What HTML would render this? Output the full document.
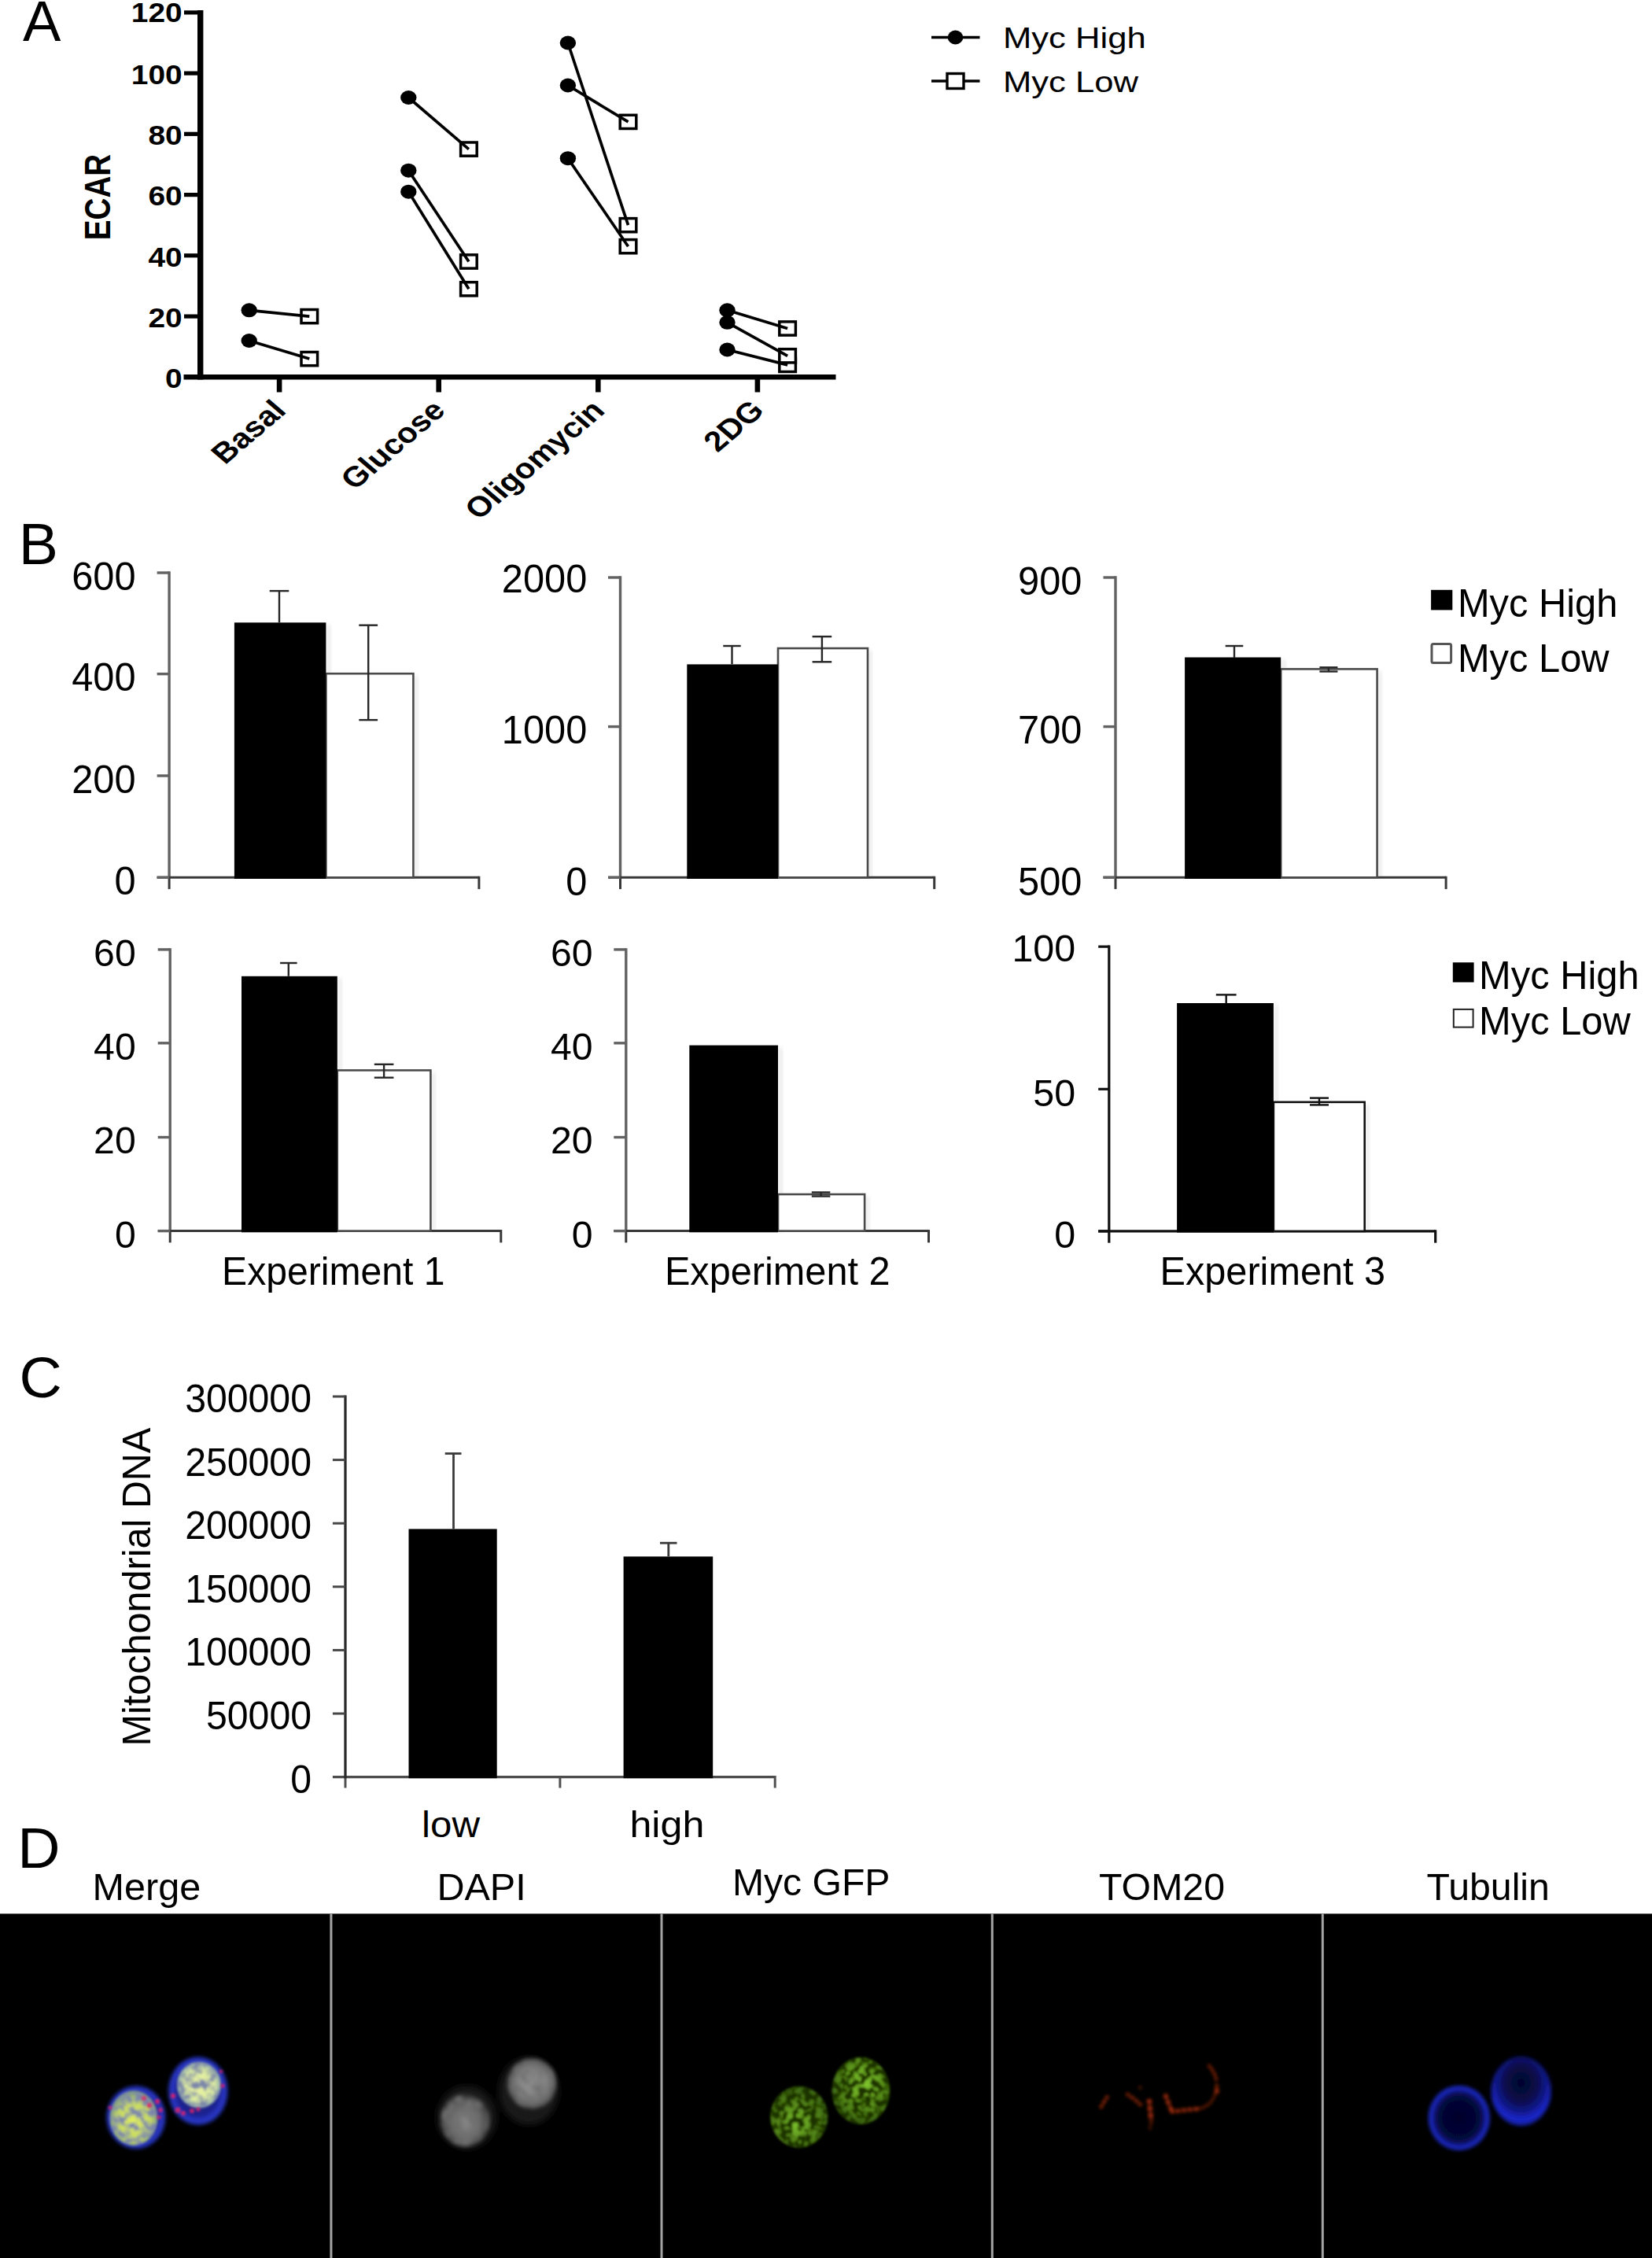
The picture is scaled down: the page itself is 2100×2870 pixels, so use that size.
<!DOCTYPE html>
<html><head><meta charset="utf-8"><title>Figure</title>
<style>html,body{margin:0;padding:0;background:#fff;}svg{display:block;}text{font-family:"Liberation Sans", Arial, Helvetica, sans-serif;}</style>
</head><body>
<svg width="2100" height="2870" viewBox="0 0 2100 2870">
<rect x="0" y="0" width="2100" height="2870" fill="#fff"/>
<defs>
<filter id="b2" x="-20%" y="-20%" width="140%" height="140%"><feGaussianBlur stdDeviation="2"/></filter>
<filter id="b4" x="-30%" y="-30%" width="160%" height="160%"><feGaussianBlur stdDeviation="4"/></filter>
<filter id="b1" x="-20%" y="-20%" width="140%" height="140%"><feGaussianBlur stdDeviation="1.2"/></filter>
<filter id="sh" x="-20%" y="-5%" width="140%" height="110%"><feGaussianBlur stdDeviation="2.5"/></filter>
<radialGradient id="gDapi" cx="50%" cy="50%" r="50%"><stop offset="0" stop-color="#b0b0b0"/><stop offset="0.7" stop-color="#8a8a8a"/><stop offset="1" stop-color="#444"/></radialGradient>
<radialGradient id="gDapi2" cx="50%" cy="50%" r="50%"><stop offset="0" stop-color="#8c8c8c"/><stop offset="0.7" stop-color="#6c6c6c"/><stop offset="1" stop-color="#333"/></radialGradient>
<radialGradient id="gGfp" cx="50%" cy="50%" r="50%"><stop offset="0" stop-color="#8fb82a"/><stop offset="0.8" stop-color="#6f9a1c"/><stop offset="1" stop-color="#3c5a0c"/></radialGradient>
<radialGradient id="gTub" cx="50%" cy="50%" r="50%"><stop offset="0" stop-color="#0a1a70"/><stop offset="0.75" stop-color="#1226a0"/><stop offset="0.93" stop-color="#2a4af0"/><stop offset="1" stop-color="#1020a0"/></radialGradient>
<radialGradient id="gMerge" cx="50%" cy="50%" r="50%"><stop offset="0" stop-color="#c8e070"/><stop offset="0.6" stop-color="#9fc060"/><stop offset="0.8" stop-color="#5070c0"/><stop offset="0.95" stop-color="#3048e0"/><stop offset="1" stop-color="#1828a0"/></radialGradient>
</defs>
<g id="panelA">
<text transform="translate(29.0,51.5)" font-size="72.5" text-anchor="start" font-weight="normal" fill="#000" >A</text>
<line x1="254.7" y1="13.0" x2="254.7" y2="482.5" stroke="#000" stroke-width="7.4" stroke-linecap="butt"/>
<line x1="233.5" y1="479.3" x2="1062.5" y2="479.3" stroke="#000" stroke-width="6.6" stroke-linecap="butt"/>
<line x1="234.0" y1="402.1" x2="255.0" y2="402.1" stroke="#000" stroke-width="5.2" stroke-linecap="butt"/>
<line x1="234.0" y1="324.8" x2="255.0" y2="324.8" stroke="#000" stroke-width="5.2" stroke-linecap="butt"/>
<line x1="234.0" y1="247.6" x2="255.0" y2="247.6" stroke="#000" stroke-width="5.2" stroke-linecap="butt"/>
<line x1="234.0" y1="170.3" x2="255.0" y2="170.3" stroke="#000" stroke-width="5.2" stroke-linecap="butt"/>
<line x1="234.0" y1="93.1" x2="255.0" y2="93.1" stroke="#000" stroke-width="5.2" stroke-linecap="butt"/>
<line x1="234.0" y1="15.9" x2="255.0" y2="15.9" stroke="#000" stroke-width="5.2" stroke-linecap="butt"/>
<text transform="translate(231.7,493.0) scale(1.08,1)" font-size="36" text-anchor="end" font-weight="bold" fill="#000" >0</text>
<text transform="translate(231.7,415.8) scale(1.08,1)" font-size="36" text-anchor="end" font-weight="bold" fill="#000" >20</text>
<text transform="translate(231.7,338.5) scale(1.08,1)" font-size="36" text-anchor="end" font-weight="bold" fill="#000" >40</text>
<text transform="translate(231.7,261.3) scale(1.08,1)" font-size="36" text-anchor="end" font-weight="bold" fill="#000" >60</text>
<text transform="translate(231.7,184.0) scale(1.08,1)" font-size="36" text-anchor="end" font-weight="bold" fill="#000" >80</text>
<text transform="translate(231.7,106.8) scale(1.08,1)" font-size="36" text-anchor="end" font-weight="bold" fill="#000" >100</text>
<text transform="translate(231.7,28.1) scale(1.08,1)" font-size="36" text-anchor="end" font-weight="bold" fill="#000" >120</text>
<line x1="355.1" y1="479.3" x2="355.1" y2="498.5" stroke="#000" stroke-width="6.6" stroke-linecap="butt"/>
<line x1="557.7" y1="479.3" x2="557.7" y2="498.5" stroke="#000" stroke-width="6.6" stroke-linecap="butt"/>
<line x1="760.3" y1="479.3" x2="760.3" y2="498.5" stroke="#000" stroke-width="6.6" stroke-linecap="butt"/>
<line x1="962.9" y1="479.3" x2="962.9" y2="498.5" stroke="#000" stroke-width="6.6" stroke-linecap="butt"/>
<text transform="translate(344.2,505.4) scale(1.17,1) rotate(-45)" font-size="36" text-anchor="end" font-weight="bold" dominant-baseline="hanging">Basal</text>
<text transform="translate(546.8,505.4) scale(1.17,1) rotate(-45)" font-size="36" text-anchor="end" font-weight="bold" dominant-baseline="hanging">Glucose</text>
<text transform="translate(749.4,505.4) scale(1.17,1) rotate(-45)" font-size="36" text-anchor="end" font-weight="bold" dominant-baseline="hanging">Oligomycin</text>
<text transform="translate(952.0,505.4) scale(1.17,1) rotate(-45)" font-size="36" text-anchor="end" font-weight="bold" dominant-baseline="hanging">2DG</text>
<text transform="translate(139.8,250.5) rotate(-90) scale(1,1.18)" font-size="38.6" text-anchor="middle" font-weight="bold">ECAR</text>
<rect x="383.0" y="447.5" width="20.6" height="17.2" fill="#fff" stroke="#000" stroke-width="3.5"/>
<rect x="383.0" y="393.5" width="20.6" height="17.2" fill="#fff" stroke="#000" stroke-width="3.5"/>
<line x1="316.7" y1="394.3" x2="393.3" y2="402.1" stroke="#000" stroke-width="3.7" stroke-linecap="butt"/>
<line x1="316.7" y1="433.0" x2="393.3" y2="456.1" stroke="#000" stroke-width="3.7" stroke-linecap="butt"/>
<ellipse cx="316.7" cy="394.3" rx="10.2" ry="9" fill="#000"/>
<ellipse cx="316.7" cy="433.0" rx="10.2" ry="9" fill="#000"/>
<rect x="585.6" y="358.7" width="20.6" height="17.2" fill="#fff" stroke="#000" stroke-width="3.5"/>
<rect x="585.6" y="323.9" width="20.6" height="17.2" fill="#fff" stroke="#000" stroke-width="3.5"/>
<rect x="585.6" y="181.0" width="20.6" height="17.2" fill="#fff" stroke="#000" stroke-width="3.5"/>
<line x1="519.3" y1="124.0" x2="595.9" y2="189.6" stroke="#000" stroke-width="3.7" stroke-linecap="butt"/>
<line x1="519.3" y1="216.7" x2="595.9" y2="332.5" stroke="#000" stroke-width="3.7" stroke-linecap="butt"/>
<line x1="519.3" y1="243.7" x2="595.9" y2="367.3" stroke="#000" stroke-width="3.7" stroke-linecap="butt"/>
<ellipse cx="519.3" cy="124.0" rx="10.2" ry="9" fill="#000"/>
<ellipse cx="519.3" cy="216.7" rx="10.2" ry="9" fill="#000"/>
<ellipse cx="519.3" cy="243.7" rx="10.2" ry="9" fill="#000"/>
<rect x="788.2" y="304.6" width="20.6" height="17.2" fill="#fff" stroke="#000" stroke-width="3.5"/>
<rect x="788.2" y="146.3" width="20.6" height="17.2" fill="#fff" stroke="#000" stroke-width="3.5"/>
<rect x="788.2" y="277.6" width="20.6" height="17.2" fill="#fff" stroke="#000" stroke-width="3.5"/>
<line x1="721.9" y1="54.5" x2="798.5" y2="286.2" stroke="#000" stroke-width="3.7" stroke-linecap="butt"/>
<line x1="721.9" y1="108.5" x2="798.5" y2="154.9" stroke="#000" stroke-width="3.7" stroke-linecap="butt"/>
<line x1="721.9" y1="201.2" x2="798.5" y2="313.2" stroke="#000" stroke-width="3.7" stroke-linecap="butt"/>
<ellipse cx="721.9" cy="54.5" rx="10.2" ry="9" fill="#000"/>
<ellipse cx="721.9" cy="108.5" rx="10.2" ry="9" fill="#000"/>
<ellipse cx="721.9" cy="201.2" rx="10.2" ry="9" fill="#000"/>
<rect x="990.8" y="455.3" width="20.6" height="17.2" fill="#fff" stroke="#000" stroke-width="3.5"/>
<rect x="990.8" y="443.7" width="20.6" height="17.2" fill="#fff" stroke="#000" stroke-width="3.5"/>
<rect x="990.8" y="408.9" width="20.6" height="17.2" fill="#fff" stroke="#000" stroke-width="3.5"/>
<line x1="924.5" y1="394.3" x2="1001.1" y2="417.5" stroke="#000" stroke-width="3.7" stroke-linecap="butt"/>
<line x1="924.5" y1="409.8" x2="1001.1" y2="452.3" stroke="#000" stroke-width="3.7" stroke-linecap="butt"/>
<line x1="924.5" y1="444.5" x2="1001.1" y2="463.9" stroke="#000" stroke-width="3.7" stroke-linecap="butt"/>
<ellipse cx="924.5" cy="394.3" rx="10.2" ry="9" fill="#000"/>
<ellipse cx="924.5" cy="409.8" rx="10.2" ry="9" fill="#000"/>
<ellipse cx="924.5" cy="444.5" rx="10.2" ry="9" fill="#000"/>
<line x1="1184.0" y1="47.5" x2="1245.5" y2="47.5" stroke="#000" stroke-width="3.4" stroke-linecap="butt"/>
<ellipse cx="1214.5" cy="47.5" rx="9.8" ry="9" fill="#000"/>
<line x1="1184.0" y1="103.0" x2="1245.5" y2="103.0" stroke="#000" stroke-width="3.4" stroke-linecap="butt"/>
<rect x="1204" y="93.5" width="21" height="19" fill="#fff" stroke="#000" stroke-width="3.4"/>
<text transform="translate(1275.0,60.5) scale(1.185,1)" font-size="36.8" text-anchor="start" font-weight="normal" fill="#000" >Myc High</text>
<text transform="translate(1275.0,116.5) scale(1.185,1)" font-size="36.8" text-anchor="start" font-weight="normal" fill="#000" >Myc Low</text>
</g>
<g id="panelB">
<text transform="translate(23.8,717.4) scale(1.01,1)" font-size="74.5" text-anchor="start" font-weight="normal" fill="#000" >B</text>
<rect x="415.4" y="794.3" width="5" height="321.0" fill="#999" opacity="0.2" filter="url(#sh)"/>
<rect x="526.4" y="859.2" width="5" height="256.1" fill="#999" opacity="0.2" filter="url(#sh)"/>
<line x1="215.1" y1="726.3" x2="215.1" y2="1115.3" stroke="#626262" stroke-width="3.4" stroke-linecap="butt"/>
<line x1="215.1" y1="1115.3" x2="215.1" y2="1130.1" stroke="#383838" stroke-width="3.0" stroke-linecap="butt"/>
<line x1="199.6" y1="1115.3" x2="608.9" y2="1115.3" stroke="#383838" stroke-width="3.0" stroke-linecap="butt"/>
<line x1="608.9" y1="1113.8" x2="608.9" y2="1130.1" stroke="#383838" stroke-width="3.0" stroke-linecap="butt"/>
<line x1="199.6" y1="728.0" x2="215.1" y2="728.0" stroke="#626262" stroke-width="3.4" stroke-linecap="butt"/>
<text transform="translate(172.6,749.9) scale(0.985,1)" font-size="49.5" text-anchor="end" font-weight="normal" fill="#000" >600</text>
<line x1="199.6" y1="856.6" x2="215.1" y2="856.6" stroke="#626262" stroke-width="3.4" stroke-linecap="butt"/>
<text transform="translate(172.6,878.2) scale(0.985,1)" font-size="49.5" text-anchor="end" font-weight="normal" fill="#000" >400</text>
<line x1="199.6" y1="986.0" x2="215.1" y2="986.0" stroke="#626262" stroke-width="3.4" stroke-linecap="butt"/>
<text transform="translate(172.6,1007.6) scale(0.985,1)" font-size="49.5" text-anchor="end" font-weight="normal" fill="#000" >200</text>
<line x1="199.6" y1="1115.3" x2="215.1" y2="1115.3" stroke="#626262" stroke-width="3.4" stroke-linecap="butt"/>
<text transform="translate(172.6,1136.9) scale(0.985,1)" font-size="49.5" text-anchor="end" font-weight="normal" fill="#000" >0</text>
<rect x="414.4" y="856.2" width="111.0" height="259.1" fill="#fff" stroke="#4a4a4a" stroke-width="2.6"/>
<rect x="297.9" y="791.3" width="116.5" height="325.7" fill="#000" stroke="none" stroke-width="0"/>
<line x1="355.0" y1="751.1" x2="355.0" y2="791.3" stroke="#262626" stroke-width="2.4" stroke-linecap="butt"/>
<line x1="342.7" y1="751.1" x2="367.3" y2="751.1" stroke="#262626" stroke-width="2.4" stroke-linecap="butt"/>
<line x1="468.2" y1="794.7" x2="468.2" y2="915.1" stroke="#262626" stroke-width="2.4" stroke-linecap="butt"/>
<line x1="456.3" y1="794.7" x2="480.1" y2="794.7" stroke="#262626" stroke-width="2.4" stroke-linecap="butt"/>
<line x1="456.3" y1="915.1" x2="480.1" y2="915.1" stroke="#262626" stroke-width="2.4" stroke-linecap="butt"/>
<rect x="990.0" y="847.4" width="5" height="267.9" fill="#999" opacity="0.2" filter="url(#sh)"/>
<rect x="1104.0" y="827.0" width="5" height="288.3" fill="#999" opacity="0.2" filter="url(#sh)"/>
<line x1="788.5" y1="732.3" x2="788.5" y2="1115.3" stroke="#626262" stroke-width="3.4" stroke-linecap="butt"/>
<line x1="788.5" y1="1115.3" x2="788.5" y2="1130.1" stroke="#383838" stroke-width="3.0" stroke-linecap="butt"/>
<line x1="773.0" y1="1115.3" x2="1187.7" y2="1115.3" stroke="#383838" stroke-width="3.0" stroke-linecap="butt"/>
<line x1="1187.7" y1="1113.8" x2="1187.7" y2="1130.1" stroke="#383838" stroke-width="3.0" stroke-linecap="butt"/>
<line x1="773.0" y1="734.0" x2="788.5" y2="734.0" stroke="#626262" stroke-width="3.4" stroke-linecap="butt"/>
<text transform="translate(746.3,752.7) scale(0.985,1)" font-size="49.5" text-anchor="end" font-weight="normal" fill="#000" >2000</text>
<line x1="773.0" y1="923.6" x2="788.5" y2="923.6" stroke="#626262" stroke-width="3.4" stroke-linecap="butt"/>
<text transform="translate(746.3,944.8) scale(0.985,1)" font-size="49.5" text-anchor="end" font-weight="normal" fill="#000" >1000</text>
<line x1="773.0" y1="1115.3" x2="788.5" y2="1115.3" stroke="#626262" stroke-width="3.4" stroke-linecap="butt"/>
<text transform="translate(746.3,1137.5) scale(0.985,1)" font-size="49.5" text-anchor="end" font-weight="normal" fill="#000" >0</text>
<rect x="989.0" y="824.0" width="114.0" height="291.3" fill="#fff" stroke="#4a4a4a" stroke-width="2.6"/>
<rect x="873.3" y="844.4" width="115.7" height="272.6" fill="#000" stroke="none" stroke-width="0"/>
<line x1="930.5" y1="821.0" x2="930.5" y2="844.3" stroke="#262626" stroke-width="2.4" stroke-linecap="butt"/>
<line x1="919.3" y1="821.0" x2="941.7" y2="821.0" stroke="#262626" stroke-width="2.4" stroke-linecap="butt"/>
<line x1="1044.9" y1="809.1" x2="1044.9" y2="841.3" stroke="#262626" stroke-width="2.4" stroke-linecap="butt"/>
<line x1="1032.6" y1="809.1" x2="1057.2" y2="809.1" stroke="#262626" stroke-width="2.4" stroke-linecap="butt"/>
<line x1="1032.6" y1="841.3" x2="1057.2" y2="841.3" stroke="#262626" stroke-width="2.4" stroke-linecap="butt"/>
<rect x="1629.2" y="838.5" width="5" height="276.8" fill="#999" opacity="0.2" filter="url(#sh)"/>
<rect x="1751.6" y="853.4" width="5" height="261.9" fill="#999" opacity="0.2" filter="url(#sh)"/>
<line x1="1418.0" y1="732.3" x2="1418.0" y2="1115.3" stroke="#626262" stroke-width="3.4" stroke-linecap="butt"/>
<line x1="1418.0" y1="1115.3" x2="1418.0" y2="1130.1" stroke="#383838" stroke-width="3.0" stroke-linecap="butt"/>
<line x1="1402.5" y1="1115.3" x2="1838.1" y2="1115.3" stroke="#383838" stroke-width="3.0" stroke-linecap="butt"/>
<line x1="1838.1" y1="1113.8" x2="1838.1" y2="1130.1" stroke="#383838" stroke-width="3.0" stroke-linecap="butt"/>
<line x1="1402.5" y1="734.0" x2="1418.0" y2="734.0" stroke="#626262" stroke-width="3.4" stroke-linecap="butt"/>
<text transform="translate(1375.4,756.3) scale(0.985,1)" font-size="49.5" text-anchor="end" font-weight="normal" fill="#000" >900</text>
<line x1="1402.5" y1="923.6" x2="1418.0" y2="923.6" stroke="#626262" stroke-width="3.4" stroke-linecap="butt"/>
<text transform="translate(1375.4,944.8) scale(0.985,1)" font-size="49.5" text-anchor="end" font-weight="normal" fill="#000" >700</text>
<line x1="1402.5" y1="1115.3" x2="1418.0" y2="1115.3" stroke="#626262" stroke-width="3.4" stroke-linecap="butt"/>
<text transform="translate(1375.4,1137.6) scale(0.985,1)" font-size="49.5" text-anchor="end" font-weight="normal" fill="#000" >500</text>
<rect x="1628.2" y="850.4" width="122.4" height="264.9" fill="#fff" stroke="#4a4a4a" stroke-width="2.6"/>
<rect x="1506.1" y="835.5" width="122.1" height="281.5" fill="#000" stroke="none" stroke-width="0"/>
<line x1="1569.0" y1="821.0" x2="1569.0" y2="836.0" stroke="#262626" stroke-width="2.4" stroke-linecap="butt"/>
<line x1="1557.7" y1="821.0" x2="1580.3" y2="821.0" stroke="#262626" stroke-width="2.4" stroke-linecap="butt"/>
<line x1="1688.9" y1="848.3" x2="1688.9" y2="853.5" stroke="#262626" stroke-width="2.4" stroke-linecap="butt"/>
<line x1="1677.4" y1="848.3" x2="1700.4" y2="848.3" stroke="#262626" stroke-width="2.4" stroke-linecap="butt"/>
<line x1="1677.4" y1="853.5" x2="1700.4" y2="853.5" stroke="#262626" stroke-width="2.4" stroke-linecap="butt"/>
<rect x="1819.1" y="749.8" width="27.2" height="25.6" fill="#000" stroke="none" stroke-width="0"/>
<rect x="1820" y="818.6" width="24.6" height="24" rx="2" fill="#fff" stroke="#555" stroke-width="3"/>
<text transform="translate(1852.9,783.9) scale(0.981,1)" font-size="49.8" text-anchor="start" font-weight="normal" fill="#000" >Myc High</text>
<text transform="translate(1852.9,854.4) scale(0.981,1)" font-size="49.8" text-anchor="start" font-weight="normal" fill="#000" >Myc Low</text>
<rect x="429.8" y="1243.8" width="5" height="320.8" fill="#999" opacity="0.2" filter="url(#sh)"/>
<rect x="548.4" y="1363.4" width="5" height="201.2" fill="#999" opacity="0.2" filter="url(#sh)"/>
<line x1="216.2" y1="1205.2" x2="216.2" y2="1564.6" stroke="#626262" stroke-width="3.4" stroke-linecap="butt"/>
<line x1="216.2" y1="1564.6" x2="216.2" y2="1579.4" stroke="#383838" stroke-width="3.0" stroke-linecap="butt"/>
<line x1="200.7" y1="1564.6" x2="636.8" y2="1564.6" stroke="#383838" stroke-width="3.0" stroke-linecap="butt"/>
<line x1="636.8" y1="1563.1" x2="636.8" y2="1579.4" stroke="#383838" stroke-width="3.0" stroke-linecap="butt"/>
<line x1="200.7" y1="1206.9" x2="216.2" y2="1206.9" stroke="#626262" stroke-width="3.4" stroke-linecap="butt"/>
<text transform="translate(172.7,1227.6)" font-size="48.2" text-anchor="end" font-weight="normal" fill="#000" >60</text>
<line x1="200.7" y1="1325.8" x2="216.2" y2="1325.8" stroke="#626262" stroke-width="3.4" stroke-linecap="butt"/>
<text transform="translate(172.7,1346.7)" font-size="48.2" text-anchor="end" font-weight="normal" fill="#000" >40</text>
<line x1="200.7" y1="1445.5" x2="216.2" y2="1445.5" stroke="#626262" stroke-width="3.4" stroke-linecap="butt"/>
<text transform="translate(172.7,1466.2)" font-size="48.2" text-anchor="end" font-weight="normal" fill="#000" >20</text>
<line x1="200.7" y1="1564.6" x2="216.2" y2="1564.6" stroke="#626262" stroke-width="3.4" stroke-linecap="butt"/>
<text transform="translate(172.7,1585.6)" font-size="48.2" text-anchor="end" font-weight="normal" fill="#000" >0</text>
<rect x="428.8" y="1360.4" width="118.6" height="204.2" fill="#fff" stroke="#4a4a4a" stroke-width="2.6"/>
<rect x="307.0" y="1240.8" width="121.8" height="325.5" fill="#000" stroke="none" stroke-width="0"/>
<line x1="366.8" y1="1224.0" x2="366.8" y2="1240.8" stroke="#262626" stroke-width="2.4" stroke-linecap="butt"/>
<line x1="356.1" y1="1224.0" x2="377.6" y2="1224.0" stroke="#262626" stroke-width="2.4" stroke-linecap="butt"/>
<line x1="488.1" y1="1352.8" x2="488.1" y2="1369.7" stroke="#262626" stroke-width="2.4" stroke-linecap="butt"/>
<line x1="475.8" y1="1352.8" x2="500.4" y2="1352.8" stroke="#262626" stroke-width="2.4" stroke-linecap="butt"/>
<line x1="475.8" y1="1369.7" x2="500.4" y2="1369.7" stroke="#262626" stroke-width="2.4" stroke-linecap="butt"/>
<rect x="990.0" y="1331.6" width="5" height="233.0" fill="#999" opacity="0.2" filter="url(#sh)"/>
<rect x="1100.1" y="1521.0" width="5" height="43.6" fill="#999" opacity="0.2" filter="url(#sh)"/>
<line x1="795.8" y1="1205.2" x2="795.8" y2="1564.6" stroke="#626262" stroke-width="3.4" stroke-linecap="butt"/>
<line x1="795.8" y1="1564.6" x2="795.8" y2="1579.4" stroke="#383838" stroke-width="3.0" stroke-linecap="butt"/>
<line x1="780.3" y1="1564.6" x2="1180.5" y2="1564.6" stroke="#383838" stroke-width="3.0" stroke-linecap="butt"/>
<line x1="1180.5" y1="1563.1" x2="1180.5" y2="1579.4" stroke="#383838" stroke-width="3.0" stroke-linecap="butt"/>
<line x1="780.3" y1="1206.9" x2="795.8" y2="1206.9" stroke="#626262" stroke-width="3.4" stroke-linecap="butt"/>
<text transform="translate(753.6,1227.6)" font-size="48.2" text-anchor="end" font-weight="normal" fill="#000" >60</text>
<line x1="780.3" y1="1325.8" x2="795.8" y2="1325.8" stroke="#626262" stroke-width="3.4" stroke-linecap="butt"/>
<text transform="translate(753.6,1346.7)" font-size="48.2" text-anchor="end" font-weight="normal" fill="#000" >40</text>
<line x1="780.3" y1="1445.5" x2="795.8" y2="1445.5" stroke="#626262" stroke-width="3.4" stroke-linecap="butt"/>
<text transform="translate(753.6,1466.2)" font-size="48.2" text-anchor="end" font-weight="normal" fill="#000" >20</text>
<line x1="780.3" y1="1564.6" x2="795.8" y2="1564.6" stroke="#626262" stroke-width="3.4" stroke-linecap="butt"/>
<text transform="translate(753.6,1585.6)" font-size="48.2" text-anchor="end" font-weight="normal" fill="#000" >0</text>
<rect x="989.0" y="1518.0" width="110.1" height="46.6" fill="#fff" stroke="#4a4a4a" stroke-width="2.6"/>
<rect x="876.3" y="1328.6" width="112.7" height="237.7" fill="#000" stroke="none" stroke-width="0"/>
<line x1="1043.6" y1="1515.5" x2="1043.6" y2="1520.5" stroke="#262626" stroke-width="2.4" stroke-linecap="butt"/>
<line x1="1031.8" y1="1515.5" x2="1055.3" y2="1515.5" stroke="#262626" stroke-width="2.4" stroke-linecap="butt"/>
<line x1="1031.8" y1="1520.5" x2="1055.3" y2="1520.5" stroke="#262626" stroke-width="2.4" stroke-linecap="butt"/>
<rect x="1619.9" y="1278.0" width="5" height="286.9" fill="#999" opacity="0.2" filter="url(#sh)"/>
<rect x="1735.7" y="1403.8" width="5" height="161.1" fill="#999" opacity="0.2" filter="url(#sh)"/>
<line x1="1409.8" y1="1201.6" x2="1409.8" y2="1564.9" stroke="#111" stroke-width="3.2" stroke-linecap="butt"/>
<line x1="1409.8" y1="1564.9" x2="1409.8" y2="1579.7" stroke="#111" stroke-width="3.2" stroke-linecap="butt"/>
<line x1="1396.2" y1="1564.9" x2="1824.7" y2="1564.9" stroke="#111" stroke-width="3.2" stroke-linecap="butt"/>
<line x1="1824.7" y1="1563.3" x2="1824.7" y2="1579.7" stroke="#111" stroke-width="3.2" stroke-linecap="butt"/>
<line x1="1396.2" y1="1203.2" x2="1409.8" y2="1203.2" stroke="#111" stroke-width="3.2" stroke-linecap="butt"/>
<text transform="translate(1367.2,1222.3) scale(0.99,1)" font-size="48.9" text-anchor="end" font-weight="normal" fill="#000" >100</text>
<line x1="1396.2" y1="1384.3" x2="1409.8" y2="1384.3" stroke="#111" stroke-width="3.2" stroke-linecap="butt"/>
<text transform="translate(1367.2,1406.1) scale(0.99,1)" font-size="48.9" text-anchor="end" font-weight="normal" fill="#000" >50</text>
<line x1="1396.2" y1="1564.9" x2="1409.8" y2="1564.9" stroke="#111" stroke-width="3.2" stroke-linecap="butt"/>
<text transform="translate(1367.2,1586.4) scale(0.99,1)" font-size="48.9" text-anchor="end" font-weight="normal" fill="#000" >0</text>
<rect x="1618.9" y="1400.8" width="115.8" height="164.1" fill="#fff" stroke="#111" stroke-width="2.6"/>
<rect x="1496.1" y="1275.0" width="122.8" height="291.5" fill="#000" stroke="none" stroke-width="0"/>
<line x1="1558.7" y1="1264.4" x2="1558.7" y2="1275.8" stroke="#111" stroke-width="2.4" stroke-linecap="butt"/>
<line x1="1545.8" y1="1264.4" x2="1571.6" y2="1264.4" stroke="#111" stroke-width="2.4" stroke-linecap="butt"/>
<line x1="1677.0" y1="1395.6" x2="1677.0" y2="1404.4" stroke="#111" stroke-width="2.4" stroke-linecap="butt"/>
<line x1="1665.0" y1="1395.6" x2="1689.0" y2="1395.6" stroke="#111" stroke-width="2.4" stroke-linecap="butt"/>
<line x1="1665.0" y1="1404.4" x2="1689.0" y2="1404.4" stroke="#111" stroke-width="2.4" stroke-linecap="butt"/>
<rect x="1846.8" y="1223.3" width="26.8" height="25.2" fill="#000" stroke="none" stroke-width="0"/>
<rect x="1847.8" y="1282.9" width="24.8" height="22.7" fill="#fff" stroke="#222" stroke-width="2"/>
<text transform="translate(1880.1,1256.6) scale(0.981,1)" font-size="49.8" text-anchor="start" font-weight="normal" fill="#000" >Myc High</text>
<text transform="translate(1880.1,1314.8) scale(0.981,1)" font-size="49.8" text-anchor="start" font-weight="normal" fill="#000" >Myc Low</text>
<text transform="translate(282.1,1632.9) scale(0.972,1)" font-size="49.5" text-anchor="start" font-weight="normal" fill="#000" >Experiment 1</text>
<text transform="translate(844.9,1632.9) scale(0.983,1)" font-size="49.5" text-anchor="start" font-weight="normal" fill="#000" >Experiment 2</text>
<text transform="translate(1474.5,1632.9) scale(0.983,1)" font-size="49.5" text-anchor="start" font-weight="normal" fill="#000" >Experiment 3</text>
</g>
<g id="panelC">
<text transform="translate(24.5,1775.8) scale(1.03,1)" font-size="73" text-anchor="start" font-weight="normal" fill="#000" >C</text>
<line x1="422.9" y1="2258.6" x2="985.2" y2="2258.6" stroke="#4c4c4c" stroke-width="3.2" stroke-linecap="butt"/>
<line x1="711.9" y1="2258.6" x2="711.9" y2="2272.5" stroke="#505050" stroke-width="3.0" stroke-linecap="butt"/>
<line x1="985.2" y1="2257.0" x2="985.2" y2="2272.5" stroke="#505050" stroke-width="3.0" stroke-linecap="butt"/>
<line x1="439.0" y1="2258.6" x2="439.0" y2="2272.5" stroke="#505050" stroke-width="3.0" stroke-linecap="butt"/>
<line x1="439.0" y1="1773.4" x2="439.0" y2="2260.2" stroke="#2a2a2a" stroke-width="3.3" stroke-linecap="butt"/>
<text transform="translate(396.0,2278.6) scale(0.978,1)" font-size="49.3" text-anchor="end" font-weight="normal" fill="#000" >0</text>
<line x1="422.9" y1="2178.0" x2="439.0" y2="2178.0" stroke="#464646" stroke-width="3.0" stroke-linecap="butt"/>
<text transform="translate(396.0,2198.0) scale(0.978,1)" font-size="49.3" text-anchor="end" font-weight="normal" fill="#000" >50000</text>
<line x1="422.9" y1="2097.4" x2="439.0" y2="2097.4" stroke="#464646" stroke-width="3.0" stroke-linecap="butt"/>
<text transform="translate(396.0,2117.4) scale(0.978,1)" font-size="49.3" text-anchor="end" font-weight="normal" fill="#000" >100000</text>
<line x1="422.9" y1="2016.8" x2="439.0" y2="2016.8" stroke="#464646" stroke-width="3.0" stroke-linecap="butt"/>
<text transform="translate(396.0,2036.8) scale(0.978,1)" font-size="49.3" text-anchor="end" font-weight="normal" fill="#000" >150000</text>
<line x1="422.9" y1="1936.2" x2="439.0" y2="1936.2" stroke="#464646" stroke-width="3.0" stroke-linecap="butt"/>
<text transform="translate(396.0,1956.2) scale(0.978,1)" font-size="49.3" text-anchor="end" font-weight="normal" fill="#000" >200000</text>
<line x1="422.9" y1="1855.6" x2="439.0" y2="1855.6" stroke="#464646" stroke-width="3.0" stroke-linecap="butt"/>
<text transform="translate(396.0,1875.6) scale(0.978,1)" font-size="49.3" text-anchor="end" font-weight="normal" fill="#000" >250000</text>
<line x1="422.9" y1="1775.0" x2="439.0" y2="1775.0" stroke="#464646" stroke-width="3.0" stroke-linecap="butt"/>
<text transform="translate(396.0,1795.0) scale(0.978,1)" font-size="49.3" text-anchor="end" font-weight="normal" fill="#000" >300000</text>
<rect x="519.5" y="1943.4" width="112.2" height="316.8" fill="#000" stroke="none" stroke-width="0"/>
<rect x="792.6" y="1978.4" width="113.6" height="281.8" fill="#000" stroke="none" stroke-width="0"/>
<line x1="576.5" y1="1847.5" x2="576.5" y2="1943.4" stroke="#3a3a3a" stroke-width="2.8" stroke-linecap="butt"/>
<line x1="565.7" y1="1847.5" x2="586.5" y2="1847.5" stroke="#3a3a3a" stroke-width="2.8" stroke-linecap="butt"/>
<line x1="849.8" y1="1961.2" x2="849.8" y2="1978.4" stroke="#3a3a3a" stroke-width="2.8" stroke-linecap="butt"/>
<line x1="839.0" y1="1961.2" x2="860.5" y2="1961.2" stroke="#3a3a3a" stroke-width="2.8" stroke-linecap="butt"/>
<text transform="translate(536.1,2335.2) scale(1.06,1)" font-size="46.5" text-anchor="start" font-weight="normal" fill="#000" >low</text>
<text transform="translate(800.4,2335.2) scale(1.08,1)" font-size="46.5" text-anchor="start" font-weight="normal" fill="#000" >high</text>
<text transform="translate(191.3,2017.1) rotate(-90) scale(0.962,1)" font-size="50.5" text-anchor="middle" font-weight="normal" fill="#000" >Mitochondrial DNA</text>
</g>
<g id="panelD">
<text transform="translate(22.3,2373.9) scale(1.03,1)" font-size="73" text-anchor="start" font-weight="normal" fill="#000" >D</text>
<text transform="translate(117.6,2415.1) scale(1.012,1)" font-size="48" text-anchor="start" font-weight="normal" fill="#000" >Merge</text>
<text transform="translate(555.4,2415.1) scale(1.012,1)" font-size="48" text-anchor="start" font-weight="normal" fill="#000" >DAPI</text>
<text transform="translate(930.9,2408.8) scale(1.003,1)" font-size="48" text-anchor="start" font-weight="normal" fill="#000" >Myc GFP</text>
<text transform="translate(1397.0,2415.1) scale(1.006,1)" font-size="48" text-anchor="start" font-weight="normal" fill="#000" >TOM20</text>
<text transform="translate(1813.5,2415.1) scale(1.005,1)" font-size="48" text-anchor="start" font-weight="normal" fill="#000" >Tubulin</text>
<rect x="0.0" y="2432.4" width="2100.0" height="437.6" fill="#000" stroke="none" stroke-width="0"/>
<line x1="420.9" y1="2432.4" x2="420.9" y2="2870.0" stroke="#a4a4a4" stroke-width="3.0" stroke-linecap="butt"/>
<line x1="841.0" y1="2432.4" x2="841.0" y2="2870.0" stroke="#a4a4a4" stroke-width="3.0" stroke-linecap="butt"/>
<line x1="1261.3" y1="2432.4" x2="1261.3" y2="2870.0" stroke="#a4a4a4" stroke-width="3.0" stroke-linecap="butt"/>
<line x1="1681.3" y1="2432.4" x2="1681.3" y2="2870.0" stroke="#a4a4a4" stroke-width="3.0" stroke-linecap="butt"/>
<defs>
<filter id="motM" x="-15%" y="-15%" width="130%" height="130%">
  <feTurbulence type="fractalNoise" baseFrequency="0.11" numOctaves="2" seed="7" result="t"/>
  <feColorMatrix in="t" type="matrix" values="0 0 0 0 0.2  0 0 0 0 0.24  0 0 0 0 0.4  3.4 0 0 0 -1.25" result="dark"/>
  <feComposite in="dark" in2="SourceGraphic" operator="in" result="dc"/>
  <feMerge result="m"><feMergeNode in="SourceGraphic"/><feMergeNode in="dc"/></feMerge>
  <feGaussianBlur in="m" stdDeviation="1.8"/>
</filter>
<filter id="motG" x="-15%" y="-15%" width="130%" height="130%">
  <feTurbulence type="fractalNoise" baseFrequency="0.13" numOctaves="2" seed="5" result="t"/>
  <feColorMatrix in="t" type="matrix" values="0 0 0 0 0.01  0 0 0 0 0.03  0 0 0 0 0  5.5 0 0 0 -2.1" result="dark"/>
  <feComposite in="dark" in2="SourceGraphic" operator="in" result="dc"/>
  <feMerge result="m"><feMergeNode in="SourceGraphic"/><feMergeNode in="dc"/></feMerge>
  <feGaussianBlur in="m" stdDeviation="1.7"/>
</filter>
<filter id="mot2" x="-15%" y="-15%" width="130%" height="130%">
  <feTurbulence type="fractalNoise" baseFrequency="0.1" numOctaves="2" seed="11" result="t"/>
  <feColorMatrix in="t" type="matrix" values="0 0 0 0 0.16  0 0 0 0 0.16  0 0 0 0 0.16  3.0 0 0 0 -1.1" result="dark"/>
  <feComposite in="dark" in2="SourceGraphic" operator="in" result="dc"/>
  <feMerge result="m"><feMergeNode in="SourceGraphic"/><feMergeNode in="dc"/></feMerge>
  <feGaussianBlur in="m" stdDeviation="2.8"/>
</filter>
<filter id="b25" x="-20%" y="-20%" width="140%" height="140%"><feGaussianBlur stdDeviation="2.5"/></filter>
<filter id="b15" x="-20%" y="-20%" width="140%" height="140%"><feGaussianBlur stdDeviation="1.6"/></filter>
<filter id="b3" x="-30%" y="-30%" width="160%" height="160%"><feGaussianBlur stdDeviation="3"/></filter>
<radialGradient id="gRing" cx="50%" cy="50%" r="50%">
  <stop offset="0" stop-color="#03042a"/><stop offset="0.66" stop-color="#050738"/><stop offset="0.84" stop-color="#0e1578"/><stop offset="0.94" stop-color="#2030dc"/><stop offset="1" stop-color="#1622b0"/>
</radialGradient>
<radialGradient id="gRing2" cx="50%" cy="38%" r="58%">
  <stop offset="0" stop-color="#04052c"/><stop offset="0.45" stop-color="#080b48"/><stop offset="0.75" stop-color="#121a90"/><stop offset="0.92" stop-color="#1c28d0"/><stop offset="1" stop-color="#1420a8"/>
</radialGradient>
<radialGradient id="gMRing" cx="50%" cy="50%" r="50%">
  <stop offset="0" stop-color="#1a2070"/><stop offset="0.72" stop-color="#1a2090"/><stop offset="0.9" stop-color="#2c3cd0"/><stop offset="1" stop-color="#1c28a0"/>
</radialGradient>
<radialGradient id="gNucM1" cx="50%" cy="55%" r="50%">
  <stop offset="0" stop-color="#e2ee5a"/><stop offset="0.7" stop-color="#c4d860"/><stop offset="1" stop-color="#7f9a88"/>
</radialGradient>
<radialGradient id="gNucM2" cx="50%" cy="50%" r="50%">
  <stop offset="0" stop-color="#eef6a0"/><stop offset="0.7" stop-color="#dcecA0"/><stop offset="1" stop-color="#8aa6b0"/>
</radialGradient>
<radialGradient id="gD1" cx="50%" cy="55%" r="50%">
  <stop offset="0" stop-color="#8a8a8a"/><stop offset="0.6" stop-color="#6a6a6a"/><stop offset="1" stop-color="#3c3c3c"/>
</radialGradient>
<radialGradient id="gD2" cx="50%" cy="50%" r="50%">
  <stop offset="0" stop-color="#9a9a9a"/><stop offset="0.65" stop-color="#808080"/><stop offset="1" stop-color="#484848"/>
</radialGradient>
<radialGradient id="gG1" cx="45%" cy="60%" r="55%">
  <stop offset="0" stop-color="#7cc42c"/><stop offset="0.5" stop-color="#5c921e"/><stop offset="1" stop-color="#3f6a12"/>
</radialGradient>
<radialGradient id="gG2" cx="55%" cy="40%" r="55%">
  <stop offset="0" stop-color="#84cc30"/><stop offset="0.5" stop-color="#64a020"/><stop offset="1" stop-color="#3f6a12"/>
</radialGradient>
</defs>
<g id="merge">
<g filter="url(#b25)"><ellipse cx="172.9" cy="2691.2" rx="37.5" ry="40" fill="url(#gMRing)"/><ellipse cx="251.8" cy="2657.7" rx="37.8" ry="43.4" fill="url(#gMRing)"/></g>
<g filter="url(#motM)"><ellipse cx="170" cy="2692" rx="30.5" ry="35" fill="url(#gNucM1)"/><ellipse cx="253" cy="2650" rx="28" ry="29.5" fill="url(#gNucM2)"/></g>
<g filter="url(#b15)" fill="#e0206a" opacity="0.85"><circle cx="183" cy="2667" r="3"/><circle cx="190" cy="2676" r="3.2"/><circle cx="200" cy="2671" r="3.2"/><circle cx="204" cy="2682" r="3"/><circle cx="202" cy="2691" r="2.6"/><circle cx="140" cy="2679" r="2.4"/><circle cx="220" cy="2664" r="3.2"/><circle cx="226" cy="2682" r="3.6"/><circle cx="233" cy="2686" r="3"/><circle cx="244" cy="2683" r="3"/><circle cx="252" cy="2681" r="2.6"/><circle cx="283" cy="2651" r="2.6"/><circle cx="281" cy="2633" r="2.2"/></g>
</g>
<g id="dapi">
<g filter="url(#b4)" opacity="0.9"><ellipse cx="593.3" cy="2691.2" rx="38" ry="40" fill="#1a1a1a"/><ellipse cx="672.2" cy="2657.7" rx="38" ry="43" fill="#1c1c1c"/></g>
<g filter="url(#mot2)"><ellipse cx="591.2" cy="2695.2" rx="31" ry="33" fill="url(#gD1)"/><ellipse cx="676.2" cy="2648.3" rx="31" ry="32" fill="url(#gD2)"/></g>
</g>
<g id="gfp" filter="url(#motG)"><ellipse cx="1015.8" cy="2690.7" rx="36.5" ry="39" fill="url(#gG1)"/><ellipse cx="1094.3" cy="2657.5" rx="36.8" ry="42.5" fill="url(#gG2)"/></g>
<g id="tom" filter="url(#b2)" opacity="0.85" fill="none" stroke="#d43a12" stroke-linecap="round" stroke-linejoin="round">
<path d="M1407.2 2665.7 L1399.2 2678.8" stroke-width="3.2" opacity="0.38"/>
<path d="M1407.2 2665.7 L1399.2 2678.8" stroke-width="4.6" opacity="0.85" stroke-dasharray="0.1 6.7"/>
<path d="M1433.4 2662.1 L1442 2668 L1450.1 2675.2" stroke-width="3.2" opacity="0.36"/>
<path d="M1433.4 2662.1 L1442 2668 L1450.1 2675.2" stroke-width="4.6" opacity="0.80" stroke-dasharray="0.1 6.7"/>
<path d="M1461 2670.8 L1462 2682 L1463.5 2696.2" stroke-width="4.3" opacity="0.43"/>
<path d="M1461 2670.8 L1462 2682 L1463.5 2696.2" stroke-width="6.2" opacity="0.95" stroke-dasharray="0.1 9.0"/>
<path d="M1463.5 2696.2 L1461.7 2706" stroke-width="2.2" opacity="0.23"/>
<path d="M1463.5 2696.2 L1461.7 2706" stroke-width="3.2" opacity="0.50" stroke-dasharray="0.1 4.6"/>
<path d="M1482 2664.3 L1486 2675 L1490 2683.9" stroke-width="4.1" opacity="0.43"/>
<path d="M1482 2664.3 L1486 2675 L1490 2683.9" stroke-width="5.8" opacity="0.95" stroke-dasharray="0.1 8.4"/>
<path d="M1490 2683.9 Q1506 2682 1524.2 2680.3" stroke-width="3.6" opacity="0.41"/>
<path d="M1490 2683.9 Q1506 2682 1524.2 2680.3" stroke-width="5.2" opacity="0.90" stroke-dasharray="0.1 7.5"/>
<path d="M1524.2 2680.3 Q1537 2677 1542 2668 Q1547 2658 1546.5 2648" stroke-width="2.7" opacity="0.27"/>
<path d="M1524.2 2680.3 Q1537 2677 1542 2668 Q1547 2658 1546.5 2648" stroke-width="3.8" opacity="0.60" stroke-dasharray="0.1 5.5"/>
<path d="M1546.8 2658 L1546.6 2650" stroke-width="3.9" opacity="0.43"/>
<path d="M1546.8 2658 L1546.6 2650" stroke-width="5.6" opacity="0.95" stroke-dasharray="0.1 8.1"/>
<path d="M1546 2642.5 Q1544 2634 1536.5 2625" stroke-width="2.9" opacity="0.36"/>
<path d="M1546 2642.5 Q1544 2634 1536.5 2625" stroke-width="4.2" opacity="0.80" stroke-dasharray="0.1 6.1"/>
<circle cx="1449.4" cy="2653.4" r="2.2" fill="#d84014" stroke="none" opacity="0.5"/>
</g>
<g id="tub" filter="url(#b25)"><ellipse cx="1854.8" cy="2691.9" rx="39" ry="41" fill="url(#gRing)"/><ellipse cx="1933.6" cy="2658" rx="38" ry="44" fill="url(#gRing2)"/></g>
</g>
</svg></body></html>
